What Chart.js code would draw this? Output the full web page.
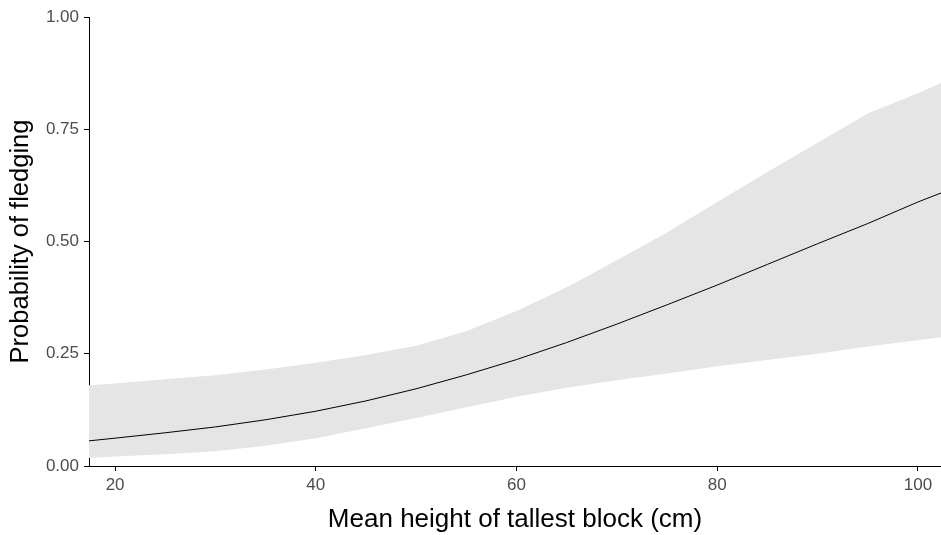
<!DOCTYPE html>
<html>
<head>
<meta charset="utf-8">
<script src="https://cdn.jsdelivr.net/npm/chart.js@4"></script>
<style>
  body { margin: 0; background: #fff; }
</style>
</head>
<body>
<canvas id="myChart" width="941" height="535"></canvas>
<script>
// mean height of tallest block (cm)
const heights = [17.4, 20, 25, 30, 35, 40, 45, 50, 55, 60, 65, 70, 75, 80, 85, 90, 95, 100, 102.3];

// predicted probability of fledging and its confidence band
const fitted = [0.056, 0.062, 0.074, 0.087, 0.103, 0.122, 0.145, 0.172, 0.203, 0.237, 0.275, 0.316, 0.359, 0.403, 0.449, 0.495, 0.540, 0.588, 0.608];
const upper = [0.180, 0.184, 0.193, 0.202, 0.215, 0.230, 0.247, 0.268, 0.300, 0.345, 0.398, 0.458, 0.520, 0.588, 0.655, 0.720, 0.785, 0.830, 0.853];
const lower = [0.018, 0.021, 0.026, 0.033, 0.045, 0.062, 0.084, 0.107, 0.131, 0.154, 0.174, 0.191, 0.206, 0.222, 0.236, 0.250, 0.266, 0.280, 0.287];

const xMin = 17.4;
const xMax = 102.3;

function pts(vals) {
    return heights.map((h, i) => ({ x: h, y: vals[i] }));
}

const tickFont = { family: 'Liberation Sans, Arial, sans-serif', size: 17 };
const xTitleFont = { family: 'Liberation Sans, Arial, sans-serif', size: 26 };
const yTitleFont = { family: 'Liberation Sans, Arial, sans-serif', size: 25.5 };

const config = {
    type: 'line',
    data: {
        datasets: [{
            label: 'fit',
            data: pts(fitted),
            borderColor: '#000',
            borderWidth: 1,
            pointRadius: 0,
            fill: false,
            tension: 0
        }, {
            label: 'upper',
            data: pts(upper),
            borderWidth: 0,
            borderColor: 'rgba(0,0,0,0)',
            backgroundColor: '#e5e5e5',
            pointRadius: 0,
            fill: '+1',
            tension: 0
        }, {
            label: 'lower',
            data: pts(lower),
            borderWidth: 0,
            borderColor: 'rgba(0,0,0,0)',
            pointRadius: 0,
            fill: false,
            tension: 0
        }]
    },
    options: {
        responsive: false,
        animation: false,
        layout: { padding: { top: 17, right: 0, bottom: 0, left: 0 } },
        plugins: {
            legend: { display: false },
            tooltip: { enabled: false }
        },
        scales: {
            x: {
                type: 'linear',
                min: xMin,
                max: xMax,
                afterFit: function (s) {
                    s.height = 69;
                    s.paddingLeft = 0;
                    s.paddingRight = 0;
                },
                ticks: {
                    stepSize: 20,
                    includeBounds: false,
                    maxRotation: 0,
                    padding: 4,
                    color: '#4d4d4d',
                    font: tickFont
                },
                grid: {
                    drawOnChartArea: false,
                    drawTicks: true,
                    tickLength: 5,
                    color: '#000'
                },
                border: { display: true, color: '#000', width: 1 },
                title: {
                    display: true,
                    text: 'Mean height of tallest block (cm)',
                    color: '#000',
                    font: xTitleFont,
                    padding: { top: 2, bottom: 0 }
                }
            },
            y: {
                min: 0,
                max: 1,
                afterFit: function (s) {
                    s.width = 89;
                    s.paddingTop = 0;
                    s.paddingBottom = 0;
                },
                ticks: {
                    stepSize: 0.25,
                    padding: 5,
                    color: '#4d4d4d',
                    font: tickFont,
                    callback: v => v.toFixed(2)
                },
                grid: {
                    drawOnChartArea: false,
                    drawTicks: true,
                    tickLength: 5,
                    color: '#000'
                },
                border: { display: true, color: '#000', width: 1 },
                title: {
                    display: true,
                    text: 'Probability of fledging',
                    color: '#000',
                    font: yTitleFont,
                    padding: { top: 6, bottom: 2 }
                }
            }
        }
    }
};

const myChart = new Chart(
    document.getElementById('myChart'),
    config
);
</script>
</body>
</html>
